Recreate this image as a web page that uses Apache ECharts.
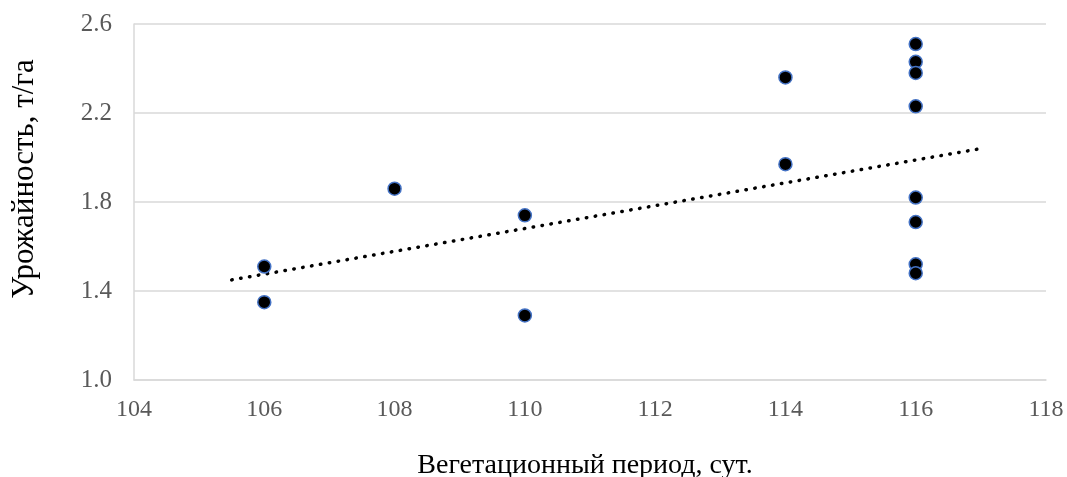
<!DOCTYPE html>
<html><head><meta charset="utf-8">
<script src="https://cdn.jsdelivr.net/npm/echarts@6/dist/echarts.min.js"></script>
<style>html,body{margin:0;padding:0;background:#fff}#c{width:1067px;height:477px}</style>
</head><body><div id="c"></div>
<script>
const periods = [106, 106, 108, 110, 110, 114, 114, 116, 116, 116, 116, 116, 116, 116, 116];
const yields  = [1.51, 1.35, 1.86, 1.74, 1.29, 2.36, 1.97, 2.51, 2.43, 2.38, 2.23, 1.82, 1.71, 1.52, 1.48];
const trendX = [105.5, 117];
const trendY = [1.45, 2.04];
const xTitle = 'Вегетационный период, сут.';
const yTitle = 'Урожайность, т/га';

const chart = echarts.init(document.getElementById('c'));
const font = 'Liberation Serif';
chart.setOption({
  animation: false,
  grid: {left: 134, right: 21, top: 24, bottom: 97, containLabel: false, outerBoundsMode: 'none'},
  xAxis: {
    type: 'value', min: 104, max: 118, interval: 2,
    name: xTitle, nameLocation: 'middle', nameGap: 72,
    nameTextStyle: {fontFamily: font, fontSize: 28, color: '#000', padding: [0, 10, 0, 0]},
    axisLine: {show: true, lineStyle: {color: '#d9d9d9', width: 1.5}},
    axisTick: {show: false},
    axisLabel: {fontFamily: font, fontSize: 24, color: '#595959', margin: 18},
    splitLine: {show: false}
  },
  yAxis: {
    type: 'value', min: 1.0, max: 2.6, interval: 0.4,
    name: yTitle, nameLocation: 'middle', nameGap: 94, nameRotate: 90,
    nameTextStyle: {fontFamily: font, fontSize: 31, color: '#000', padding: [0, 0, 0, 46]},
    axisLine: {show: true, lineStyle: {color: '#d9d9d9', width: 1.5}},
    axisTick: {show: false},
    axisLabel: {fontFamily: font, fontSize: 25, color: '#595959', margin: 22,
      formatter: v => v.toFixed(1)},
    splitLine: {show: true, lineStyle: {color: '#d9d9d9', width: 1.5}}
  },
  series: [
    {
      type: 'line', data: trendX.map((x, i) => [x, trendY[i]]),
      showSymbol: false, symbol: 'none',
      lineStyle: {color: '#000', width: 3.5, type: [0.5, 8.5], cap: 'round'},
      z: 2
    },
    {
      type: 'scatter', data: periods.map((x, i) => [x, yields[i]]),
      symbol: 'circle', symbolSize: 13,
      itemStyle: {color: '#000', borderColor: '#4472c4', borderWidth: 1.5, opacity: 1},
      z: 3
    }
  ]
});
</script></body></html>
